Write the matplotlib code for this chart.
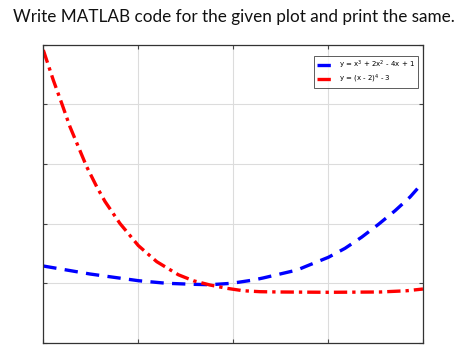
import matplotlib
matplotlib.use('Agg')
import matplotlib.pyplot as plt

# points (x in grid units 0..4, y in grid units 0..5)
x_blue = [0.0, 0.492, 1.005, 1.300, 1.581, 1.757, 1.985, 2.213, 2.315, 2.674, 2.776,
          3.003, 3.179, 3.355, 3.530, 3.706, 3.864, 4.0]
y_blue = [1.287, 1.153, 1.040, 0.997, 0.980, 0.973, 0.997, 1.052, 1.086, 1.220, 1.287,
          1.433, 1.584, 1.772, 1.985, 2.215, 2.445, 2.69]

x_red = [0.0, 0.105, 0.194, 0.281, 0.369, 0.457, 0.563, 0.650, 0.808, 1.001,
         1.195, 1.423, 1.581, 1.757, 1.933, 2.107, 2.283, 2.494, 3.007,
         3.548, 3.829, 4.0]
y_red = [4.911, 4.408, 4.017, 3.624, 3.289, 2.953, 2.617, 2.37, 2.00, 1.63,
         1.36, 1.14, 1.04, 0.968, 0.913, 0.872, 0.856, 0.851, 0.846,
         0.851, 0.872, 0.901]

labels = ['y = x$^3$ + 2x$^2$ - 4x + 1', 'y = (x - 2)$^4$ - 3']

fig = plt.figure(figsize=(4.68, 3.51), dpi=100)
fig.text(0.5, 0.952, 'Write MATLAB code for the given plot and print the same.',
         ha='center', va='center', fontsize=12.3, family='Lato', color='#111111')

ax = fig.add_axes([0.0925, 0.0236, 0.8113, 0.849])
ax.plot(x_blue, y_blue, color='#0000ff', linestyle='--', linewidth=2.4,
        dashes=(4, 2.5), label=labels[0])
ax.plot(x_red, y_red, color='#ff0000', linestyle='-.', linewidth=2.4,
        dashes=(4, 1.5, 1, 1.5), label=labels[1])

ax.set_xlim(0, 4)
ax.set_ylim(0, 5)
ax.set_xticks([0, 1, 2, 3, 4])
ax.set_yticks([0, 1, 2, 3, 4, 5])
ax.set_xticklabels([])
ax.set_yticklabels([])
ax.tick_params(direction='in', top=True, right=True, length=3, width=0.8, color='#444444')
ax.grid(True, color='#dcdcdc', linewidth=0.8)
ax.set_axisbelow(True)
for s in ax.spines.values():
    s.set_color('#333333')
    s.set_linewidth(0.9)

leg = ax.legend(loc='upper right', fontsize=5, frameon=True, fancybox=False,
                handlelength=2.4, borderpad=0.4, labelspacing=0.3,
                bbox_to_anchor=(0.995, 0.975))
leg.get_frame().set_edgecolor('#333333')
leg.get_frame().set_linewidth(0.7)

fig.savefig('out.png', dpi=100)
